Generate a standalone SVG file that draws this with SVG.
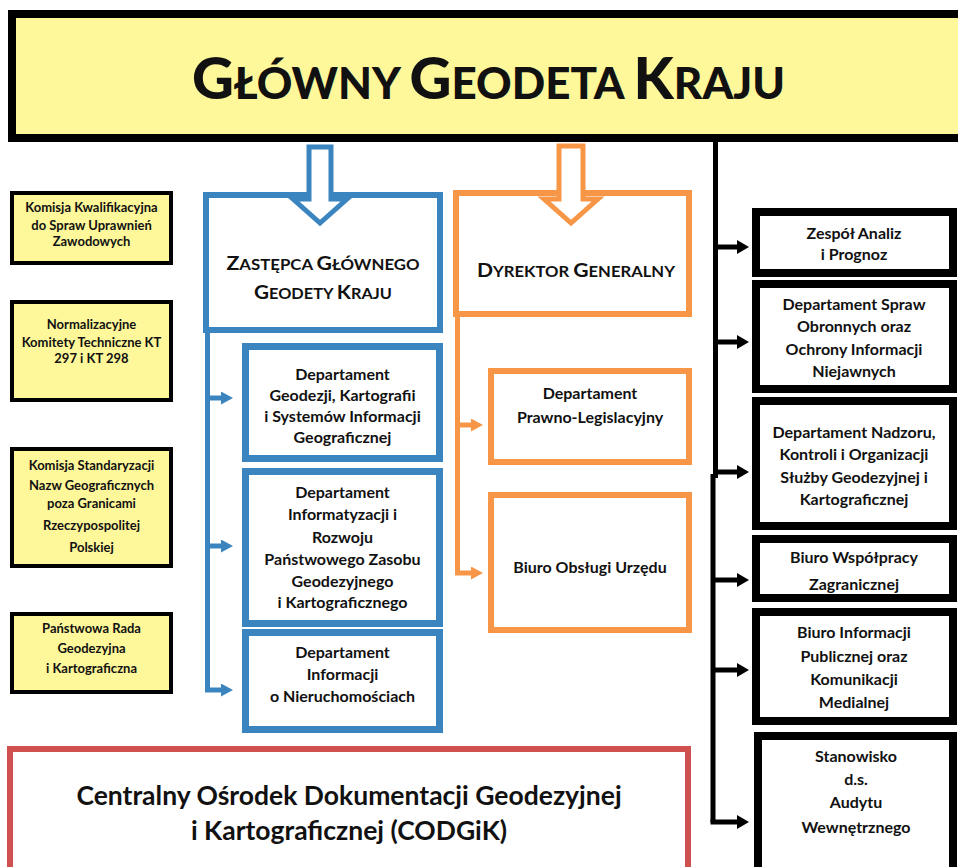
<svg xmlns="http://www.w3.org/2000/svg" width="958" height="867" viewBox="0 0 958 867">
<style>
text{font-family:Lato,"Open Sans","Liberation Sans",sans-serif;font-weight:bold;fill:#111;text-anchor:middle}
.t{font-size:16px}
.s{font-size:13px}
.big{font-size:26.5px}
.yel{fill:#FFF89A;stroke:#000;stroke-width:4}
.blk{fill:#fff;stroke:#000;stroke-width:8}
.blu{fill:#fff;stroke:#3A84C0;stroke-width:7}
.org{fill:#fff;stroke:#F79646;stroke-width:6}
.lb{fill:none;stroke:#3A84C0;stroke-width:5}
.lo{fill:none;stroke:#F79646;stroke-width:5}
.lk{fill:none;stroke:#000;stroke-width:5}
</style>
<defs>
<marker id="ab" markerUnits="userSpaceOnUse" viewBox="0 0 12 13" refX="3" refY="6.5" markerWidth="12" markerHeight="13" orient="auto"><path d="M0,0L12,6.5L0,13z" fill="#3A84C0"/></marker>
<marker id="ao" markerUnits="userSpaceOnUse" viewBox="0 0 12 13" refX="3" refY="6.5" markerWidth="12" markerHeight="13" orient="auto"><path d="M0,0L12,6.5L0,13z" fill="#F79646"/></marker>
<marker id="ak" markerUnits="userSpaceOnUse" viewBox="0 0 12 14" refX="3" refY="7" markerWidth="12" markerHeight="14" orient="auto"><path d="M0,0L12,7L0,14z" fill="#000"/></marker>
</defs>

<g id="ggk">
<rect x="12" y="14" width="960" height="124" fill="#FFF89A" stroke="#000" stroke-width="8"/>
<text x="192" y="99" style="text-anchor:start;font-weight:900" textLength="593" lengthAdjust="spacingAndGlyphs"><tspan font-size="58">G</tspan><tspan font-size="44">ŁÓWNY </tspan><tspan font-size="58">G</tspan><tspan font-size="44">EODETA </tspan><tspan font-size="58">K</tspan><tspan font-size="44">RAJU</tspan></text>
</g>

<g id="kk">
<rect class="yel" x="12" y="193" width="159" height="70"/>
<text class="s" x="91.5" y="212">Komisja Kwalifikacyjna</text>
<text class="s" x="91.5" y="230">do Spraw Uprawnień</text>
<text class="s" x="91.5" y="246">Zawodowych</text>
</g>
<g id="nkt">
<rect class="yel" x="12" y="302" width="159" height="98"/>
<text class="s" x="91.5" y="329">Normalizacyjne</text>
<text class="s" x="91.5" y="347">Komitety Techniczne KT</text>
<text class="s" x="91.5" y="363">297 i KT 298</text>
</g>
<g id="ksng">
<rect class="yel" x="12" y="449" width="159" height="117"/>
<text class="s" x="91.5" y="470">Komisja Standaryzacji</text>
<text class="s" x="91.5" y="490">Nazw Geograficznych</text>
<text class="s" x="91.5" y="508">poza Granicami</text>
<text class="s" x="91.5" y="530">Rzeczypospolitej</text>
<text class="s" x="91.5" y="552">Polskiej</text>
</g>
<g id="prgk">
<rect class="yel" x="12" y="614" width="159" height="78"/>
<text class="s" x="91.5" y="633">Państwowa Rada</text>
<text class="s" x="91.5" y="653">Geodezyjna</text>
<text class="s" x="91.5" y="673">i Kartograficzna</text>
</g>

<g id="zastepca">
<rect x="206" y="195" width="234" height="135" fill="#fff" stroke="#3A84C0" stroke-width="6"/>
<text x="323" y="270" textLength="193" lengthAdjust="spacingAndGlyphs"><tspan font-size="19">Z</tspan><tspan font-size="15">ASTĘPCA </tspan><tspan font-size="19">G</tspan><tspan font-size="15">ŁÓWNEGO</tspan></text>
<text x="323" y="299" textLength="138" lengthAdjust="spacingAndGlyphs"><tspan font-size="19">G</tspan><tspan font-size="15">EODETY </tspan><tspan font-size="19">K</tspan><tspan font-size="15">RAJU</tspan></text>
</g>
<g id="dgk">
<rect class="blu" x="245.5" y="346.5" width="194" height="112"/>
<text class="t" x="342.5" y="380">Departament</text>
<text class="t" x="342.5" y="401">Geodezji, Kartografii</text>
<text class="t" x="342.5" y="422">i Systemów Informacji</text>
<text class="t" x="342.5" y="443">Geograficznej</text>
</g>
<g id="dir">
<rect class="blu" x="245.5" y="471.5" width="194" height="152"/>
<text class="t" x="342.5" y="498">Departament</text>
<text class="t" x="342.5" y="520">Informatyzacji i</text>
<text class="t" x="342.5" y="543">Rozwoju</text>
<text class="t" x="342.5" y="565">Państwowego Zasobu</text>
<text class="t" x="342.5" y="587">Geodezyjnego</text>
<text class="t" x="342.5" y="608">i Kartograficznego</text>
</g>
<g id="din">
<rect class="blu" x="245.5" y="632.5" width="194" height="97"/>
<text class="t" x="342.5" y="658">Departament</text>
<text class="t" x="342.5" y="680">Informacji</text>
<text class="t" x="342.5" y="702">o Nieruchomościach</text>
</g>

<g id="dyrektor">
<rect x="456" y="193" width="233" height="121" fill="#fff" stroke="#F79646" stroke-width="6"/>
<text x="576" y="277" textLength="198" lengthAdjust="spacingAndGlyphs"><tspan font-size="19">D</tspan><tspan font-size="15">YREKTOR </tspan><tspan font-size="19">G</tspan><tspan font-size="15">ENERALNY</tspan></text>
</g>
<g id="dpl">
<rect class="org" x="491" y="371" width="198" height="91"/>
<text class="t" x="590" y="399">Departament</text>
<text class="t" x="590" y="423">Prawno-Legislacyjny</text>
</g>
<g id="bou">
<rect class="org" x="491" y="495" width="198" height="135"/>
<text class="t" x="590" y="573">Biuro Obsługi Urzędu</text>
</g>

<g id="zap">
<rect class="blk" x="756" y="212" width="197" height="61"/>
<text class="t" x="854" y="239">Zespół Analiz</text>
<text class="t" x="854" y="260">i Prognoz</text>
</g>
<g id="dso">
<rect class="blk" x="756" y="284" width="197" height="105"/>
<text class="t" x="854" y="310">Departament Spraw</text>
<text class="t" x="854" y="332">Obronnych oraz</text>
<text class="t" x="854" y="355">Ochrony Informacji</text>
<text class="t" x="854" y="377">Niejawnych</text>
</g>
<g id="dnk">
<rect class="blk" x="756" y="401" width="197" height="125"/>
<text class="t" x="854" y="438">Departament Nadzoru,</text>
<text class="t" x="854" y="460">Kontroli i Organizacji</text>
<text class="t" x="854" y="483">Służby Geodezyjnej i</text>
<text class="t" x="854" y="505">Kartograficznej</text>
</g>
<g id="bwz">
<rect class="blk" x="756" y="539" width="197" height="59"/>
<text class="t" x="854" y="563">Biuro Współpracy</text>
<text class="t" x="854" y="590">Zagranicznej</text>
</g>
<g id="bip">
<rect class="blk" x="756" y="612" width="197" height="109"/>
<text class="t" x="854" y="638">Biuro Informacji</text>
<text class="t" x="854" y="662">Publicznej oraz</text>
<text class="t" x="854" y="685">Komunikacji</text>
<text class="t" x="854" y="708">Medialnej</text>
</g>
<g id="audyt">
<rect class="blk" x="758" y="736" width="195" height="150"/>
<text class="t" x="856" y="762">Stanowisko</text>
<text class="t" x="856" y="785">d.s.</text>
<text class="t" x="856" y="808">Audytu</text>
<text class="t" x="856" y="833">Wewnętrznego</text>
</g>

<g id="codgik">
<rect x="10" y="749" width="678" height="140" fill="#fff" stroke="#CF504F" stroke-width="6"/>
<text class="big" x="349" y="805">Centralny Ośrodek Dokumentacji Geodezyjnej</text>
<text class="big" x="349" y="840">i Kartograficznej (CODGiK)</text>
</g>

<g id="connectors">
<path d="M309,147H331V199H347L320,223L293,199H309Z" fill="#fff" stroke="#3A84C0" stroke-width="5" stroke-linejoin="miter"/>
<path d="M559,146H583V199H598L571,223L544,199H559Z" fill="#fff" stroke="#F79646" stroke-width="5" stroke-linejoin="miter"/>
<path class="lb" d="M207.5,330V690"/>
<path class="lb" d="M207.5,398H224" marker-end="url(#ab)"/>
<path class="lb" d="M207.5,546H224" marker-end="url(#ab)"/>
<path class="lb" d="M205,690H224" marker-end="url(#ab)"/>
<path class="lo" d="M457.5,314V573"/>
<path class="lo" d="M457.5,425H474" marker-end="url(#ao)"/>
<path class="lo" d="M455,573H474" marker-end="url(#ao)"/>
<path class="lk" d="M715.5,138V478"/>
<path class="lk" d="M713,474V822"/>
<path class="lk" d="M715.5,247H740" marker-end="url(#ak)"/>
<path class="lk" d="M715.5,342H740" marker-end="url(#ak)"/>
<path class="lk" d="M715.5,472H740" marker-end="url(#ak)"/>
<path class="lk" d="M713,580H740" marker-end="url(#ak)"/>
<path class="lk" d="M713,670H740" marker-end="url(#ak)"/>
<path class="lk" d="M710.5,822H740" marker-end="url(#ak)"/>
</g>
</svg>
